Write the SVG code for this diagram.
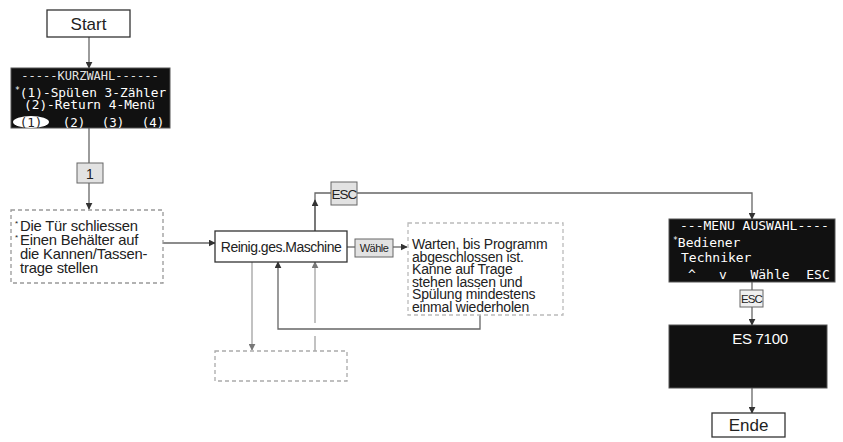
<svg xmlns="http://www.w3.org/2000/svg" width="843" height="442" viewBox="0 0 843 442">
<defs>
<marker id="ah" viewBox="0 0 10 10" refX="9" refY="5" markerWidth="7" markerHeight="7" orient="auto-start-reverse" markerUnits="userSpaceOnUse">
<path d="M0,0 L10,5 L0,10 z" fill="#333"/>
</marker>
<marker id="ahl" viewBox="0 0 10 10" refX="9" refY="5" markerWidth="7" markerHeight="7" orient="auto-start-reverse" markerUnits="userSpaceOnUse">
<path d="M0,0 L10,5 L0,10 z" fill="#777"/>
</marker>
</defs>
<style>
.box{fill:#fff;stroke:#333;stroke-width:1.3}
.dash{fill:#fff;stroke:#999;stroke-width:1.3;stroke-dasharray:4 3}
.lcd{fill:#111;stroke:#555;stroke-width:1}
.key{fill:#e2e2e2;stroke:#666;stroke-width:1}
.ln{fill:none;stroke:#666;stroke-width:1.3}
.lnl{fill:none;stroke:#999;stroke-width:1.2}
.sans{font-family:"Liberation Sans",Arial,sans-serif;fill:#222}
.mono{font-family:"DejaVu Sans Mono","Liberation Mono",monospace;fill:#fff}
</style>
<rect width="843" height="442" fill="#fff"/>

<g id="connectors">
<line class="ln" x1="89" y1="37" x2="89" y2="68" marker-end="url(#ah)"/>
<line class="ln" x1="89" y1="128" x2="89" y2="163"/>
<line class="ln" x1="89" y1="183" x2="89" y2="209" marker-end="url(#ah)"/>
<line class="ln" x1="163" y1="243" x2="215" y2="243" marker-end="url(#ah)"/>
<polyline class="ln" points="315,231 315,193 331,193"/>
<line class="ln" x1="315" y1="231" x2="315" y2="200" marker-end="url(#ah)"/>
<polyline class="ln" points="357,193 752,193 752,219" marker-end="url(#ah)"/>
<line class="ln" x1="347" y1="247" x2="355" y2="247"/>
<line class="ln" x1="393" y1="247" x2="407" y2="247" marker-end="url(#ah)"/>
<polyline class="ln" points="480,315 480,329 278,329 278,262" marker-end="url(#ah)"/>
<line class="lnl" x1="252" y1="262" x2="252" y2="350" marker-end="url(#ahl)"/>
<line class="lnl" x1="315" y1="351" x2="315" y2="336"/>
<line class="lnl" x1="315" y1="323" x2="315" y2="262" marker-end="url(#ahl)"/>
<line class="ln" x1="752" y1="282" x2="752" y2="290"/>
<line class="ln" x1="752" y1="307" x2="752" y2="325" marker-end="url(#ah)"/>
<line class="ln" x1="752" y1="388" x2="752" y2="413" marker-end="url(#ah)"/>
</g>

<g id="start">
<rect class="box" x="47" y="10" width="83" height="27"/>
<text class="sans" x="88.5" y="30" font-size="17" text-anchor="middle">Start</text>
</g>

<g id="kurzwahl">
<rect class="lcd" x="11" y="68" width="159" height="60"/>
<text class="mono" x="90" y="79.5" font-size="12" text-anchor="middle" fill-opacity="0.9">-----KURZWAHL------</text>
<text class="mono" x="15" y="97" font-size="12.8"><tspan font-size="8" dy="-4">*</tspan><tspan dy="4">(1)-Spülen 3-Zähler</tspan></text>
<text class="mono" x="24" y="109" font-size="12.8">(2)-Return 4-Menü</text>
<ellipse cx="31" cy="122" rx="18" ry="6" fill="#fff"/>
<text class="mono" x="31" y="126.5" font-size="12.5" text-anchor="middle" style="fill:#222">(1)</text>
<text class="mono" x="74" y="126.5" font-size="12.5" text-anchor="middle">(2)</text>
<text class="mono" x="113" y="126.5" font-size="12.5" text-anchor="middle">(3)</text>
<text class="mono" x="153" y="126.5" font-size="12.5" text-anchor="middle">(4)</text>
</g>

<g id="key1">
<rect class="key" x="77" y="163" width="26" height="20"/>
<text class="sans" x="90" y="178.5" font-size="14" text-anchor="middle">1</text>
</g>

<g id="door">
<rect class="dash" x="11" y="210" width="152" height="73"/>
<text class="sans" font-size="14.8" letter-spacing="-0.2">
<tspan x="15" y="226" font-size="8">*</tspan><tspan x="20" y="231">Die Tür schliessen</tspan>
<tspan x="15" y="240" font-size="8">*</tspan><tspan x="20" y="245">Einen Behälter auf</tspan>
<tspan x="20" y="259">die Kannen/Tassen-</tspan>
<tspan x="20" y="273">trage stellen</tspan>
</text>
</g>

<g id="reinig">
<rect class="box" x="215" y="231" width="132" height="31"/>
<text class="sans" x="281" y="252" font-size="14" text-anchor="middle" letter-spacing="-0.5">Reinig.ges.Maschine</text>
</g>

<g id="esc1">
<rect class="key" x="331" y="182" width="26" height="23"/>
<text class="sans" x="344" y="199" font-size="13.5" text-anchor="middle" letter-spacing="-1">ESC</text>
</g>

<g id="waehle">
<rect class="key" x="355" y="239" width="38" height="18"/>
<text class="sans" x="374" y="252" font-size="11" text-anchor="middle" letter-spacing="-0.5" fill="#444">Wähle</text>
</g>

<g id="warten">
<rect class="dash" x="408" y="223" width="155" height="92" style="stroke:#bbb"/>
<text class="sans" font-size="14" letter-spacing="-0.2">
<tspan x="412" y="249">Warten, bis Programm</tspan>
<tspan x="412" y="261.5">abgeschlossen ist.</tspan>
<tspan x="412" y="274">Kanne auf Trage</tspan>
<tspan x="412" y="286.5">stehen lassen und</tspan>
<tspan x="412" y="299">Spülung mindestens</tspan>
<tspan x="412" y="311.5">einmal wiederholen</tspan>
</text>
</g>

<g id="empty">
<rect class="dash" x="215" y="351" width="132" height="30" style="stroke:#aaa"/>
</g>

<g id="menu">
<rect class="lcd" x="669" y="219" width="166" height="63"/>
<text class="mono" x="680" y="230" font-size="13">---MENU AUSWAHL----</text>
<text class="mono" x="673" y="247" font-size="13"><tspan font-size="8" dy="-4">*</tspan><tspan dy="4">Bediener</tspan></text>
<text class="mono" x="681" y="262" font-size="13">Techniker</text>
<text class="mono" x="692" y="279" font-size="13" text-anchor="middle">^</text>
<text class="mono" x="723" y="279" font-size="13" text-anchor="middle">v</text>
<text class="mono" x="770" y="279" font-size="13" text-anchor="middle">Wähle</text>
<text class="mono" x="818" y="279" font-size="13" text-anchor="middle">ESC</text>
</g>

<g id="esc2">
<rect class="key" x="740" y="290" width="23" height="17" style="fill:#f0f0f0"/>
<text class="sans" x="751.5" y="303" font-size="11.5" text-anchor="middle" letter-spacing="-0.8">ESC</text>
</g>

<g id="es7100">
<rect class="lcd" x="669" y="325" width="158" height="63"/>
<text class="sans" x="760" y="343.5" font-size="15" text-anchor="middle" letter-spacing="-0.3" style="fill:#fff">ES 7100</text>
</g>

<g id="ende">
<rect class="box" x="712" y="413" width="73" height="24"/>
<text class="sans" x="748.5" y="431" font-size="17" text-anchor="middle">Ende</text>
</g>
</svg>
